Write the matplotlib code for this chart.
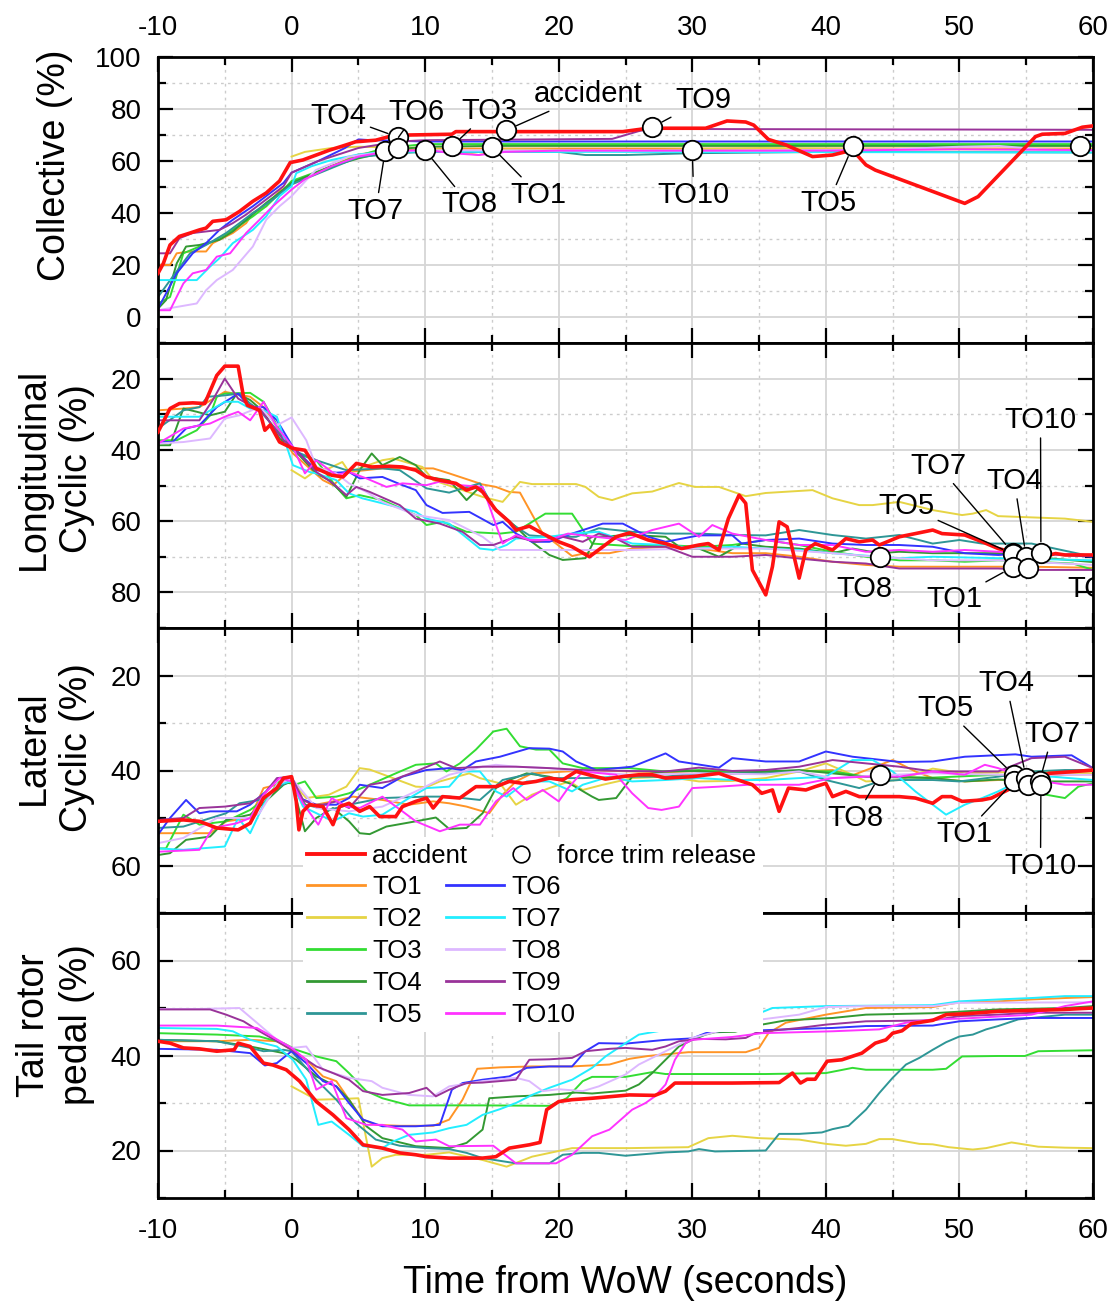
import matplotlib.pyplot as plt
from matplotlib.lines import Line2D
from matplotlib.patches import Rectangle
from matplotlib.ticker import MultipleLocator

plt.rcParams['font.family'] = ['Liberation Sans', 'DejaVu Sans']
plt.rcParams['axes.unicode_minus'] = False

names = ['TO1', 'TO2', 'TO3', 'TO4', 'TO5', 'TO6', 'TO7', 'TO8', 'TO9', 'TO10']
colors = ['#FF9426', '#E6D444', '#33DD33', '#339933', '#2E9696',
          '#3333FF', '#22EEFF', '#DDB8FF', '#993399', '#FF33FF']
acc_color = '#FF1111'

# ---- collective (%) : (time, value) ----
coll_acc = [(-10, 16.8), (-9.6, 20.6), (-9.1, 27.7), (-8.4, 31), (-7.6, 32.3), (-6.9, 33.5), (-6.4, 34.2),
            (-5.9, 36.8), (-4.9, 37.4), (-3.9, 40.6), (-2.9, 44.5), (-1.9, 47.7), (-0.9, 52.3), (-0.1, 59.4),
            (0.85, 60.4), (1.85, 62.3), (2.85, 64.2), (3.85, 65.8), (4.8, 67.4), (6.3, 68), (7.3, 69.4),
            (8.8, 70), (12, 70.3), (12.3, 71.3), (24.8, 71.3), (26.7, 72.6), (31, 72.6), (32.6, 75.4),
            (34, 75), (34.6, 73.8), (35.7, 68.3), (37, 66.2), (39, 61.7), (40.5, 62.3), (42, 64.2),
            (43, 58.5), (43.7, 56.5), (50.4, 43.7), (51.4, 46.3), (55.7, 69.4), (56.2, 70.3), (57.9, 70.6),
            (59.2, 73), (60, 73.5)]
coll_to1 = [(-10, 20), (-9.1, 20), (-8.6, 24.5), (-7.6, 25.2), (-6.4, 25.2), (-5.9, 28.4), (-4.4, 32.3),
            (-3.4, 36.1), (-2.9, 40), (-1.9, 42.6), (-0.9, 48.4), (0, 51), (2.5, 57), (5, 62.5), (7, 64),
            (10, 64.8), (60, 64.8)]
coll_to2 = [(0, 61.7), (1, 63.5), (3, 65), (5, 65.5), (10, 65), (12, 64), (14, 62.3), (16, 64.5), (25, 64),
            (35, 65), (45, 64.5), (60, 64.5)]
coll_to3 = [(-10, 5.2), (-9.1, 7.7), (-8.1, 24.5), (-6.9, 27.1), (-5.9, 29), (-4.4, 33.5), (-2.9, 38.7),
            (-1.9, 42.6), (-0.6, 49), (0, 52.3), (2.5, 57), (5, 62), (7, 65), (10, 66.5), (60, 66.5)]
coll_to4 = [(-10, 3.2), (-9.4, 6.5), (-8.6, 20.6), (-7.9, 27.1), (-6.9, 27.7), (-5.4, 29.7), (-4.4, 32.9),
            (-3.1, 38.7), (-1.9, 43.9), (-0.6, 49), (0, 51.6), (3, 58), (5, 61), (8, 64.5), (10, 65.5),
            (15, 65.8), (60, 65.8)]
coll_to5 = [(-10, 7.7), (-8.9, 15.5), (-7.6, 24.5), (-6.4, 27.7), (-4.9, 32.3), (-3.9, 36.1), (-2.9, 40),
            (-1.4, 45.2), (0, 51), (5, 61.5), (8, 63), (10, 63.5), (20, 63.5), (22, 62.3), (25, 62.3),
            (30, 63), (40, 63.5), (60, 63.3)]
coll_to6 = [(-10, 3.2), (-8.6, 16.8), (-7.4, 24.5), (-6.4, 28.4), (-5.4, 33.5), (-4.4, 37.4), (-2.9, 42.6),
            (-1.9, 46.5), (-0.6, 51.6), (0, 55.5), (2, 60), (4, 65), (5, 68.3), (6, 68), (10, 67.5),
            (60, 67.5)]
coll_to7 = [(-10, 14.2), (-7.1, 14.2), (-6.1, 19.4), (-5.4, 22.6), (-4.4, 28.4), (-2.9, 33.5), (-1.9, 38.7),
            (-0.9, 46.5), (0, 50.3), (0.35, 55.3), (1.5, 58), (3, 60.4), (5, 62.5), (7, 63.6), (60, 63.3)]
coll_to8 = [(-10, 2.6), (-7.1, 5.2), (-6.4, 10.3), (-5.6, 14.2), (-4.4, 18.1), (-2.9, 27.1), (-1.9, 37.4),
            (-0.9, 42.6), (0, 46.5), (1.8, 56.5), (4.3, 61.7), (7, 63.5), (10, 64.1), (35, 64), (45, 64.5),
            (50, 65.5), (53, 65.8), (56, 64.5), (60, 64)]
coll_to9 = [(-10, 24.5), (-9.1, 24.5), (-8.4, 30.3), (-7.4, 32.3), (-6.4, 32.9), (-5.4, 33.5), (-4.4, 36.1),
            (-3.4, 39.4), (-1.9, 45.2), (-0.6, 50.3), (0, 55.5), (2, 60), (5, 65), (8, 67.5), (10, 68),
            (24, 68.5), (25, 70), (26, 71.5), (27, 72.5), (30, 72.3), (60, 72)]
coll_to10 = [(-10, 2.6), (-9.1, 2.6), (-8.1, 12.9), (-7.4, 16.8), (-6.4, 18.1), (-5.6, 23.2), (-4.6, 24.5),
             (-3.4, 32.3), (-2.4, 37.4), (-1.4, 42.6), (0, 49), (1, 53), (3, 58), (5, 61.7), (7, 63.5),
             (10, 64.3), (12, 63), (14, 62.3), (16, 63.5), (20, 64), (40, 64), (50, 64.5), (60, 64.2)]

# ---- longitudinal cyclic (%) ----
long_acc = [(-10, 35), (-9.1, 28.4), (-8.4, 27), (-7.4, 26.8), (-6.5, 27), (-5.6, 19.1), (-5, 16.5), (-4, 16.5),
            (-3.6, 25.1), (-3.3, 27.5), (-2.4, 28.9), (-2, 34.5), (-1.6, 33), (-0.9, 37.8), (0.1, 39.6),
            (1, 40.1), (1.85, 45.2), (3, 47.1), (3.85, 47.6), (4.85, 43.8), (6, 44.8), (7.3, 44.6), (8.3, 44.8),
            (9.3, 45.7), (10.1, 47.6), (11.1, 48.5), (12.3, 49.4), (13.1, 51.3), (13.8, 50.4), (14.3, 51.8),
            (15.3, 56.9), (16.3, 60.2), (16.8, 62.5), (17.8, 61.4), (18.8, 63.5), (20, 65.8), (21, 67.2),
            (22.3, 70), (23.3, 67.2), (24.3, 64.4), (25.3, 63.3), (26.7, 65.3), (28, 66.3), (29.2, 67.7),
            (30.5, 66.7), (31.2, 66.3), (32, 68.1), (32.7, 59.3), (33.5, 52.7), (34, 55), (34.5, 73.7),
            (35.5, 80.7), (36, 72.8), (36.5, 60.2), (37.1, 61.6), (38, 76), (38.5, 68.1), (39.2, 66.3),
            (40.5, 68.1), (41.5, 64.9), (42.5, 65.8), (43.5, 65.3), (44, 66.7), (45.5, 64.4), (46.7, 63.5),
            (48, 62.5), (48.7, 63.5), (50.4, 63.9), (51.7, 65.8), (52.9, 67.7), (53.9, 68.6), (55.2, 69.1),
            (56.2, 70), (57.2, 69.1), (57.9, 69.5), (60, 69.5)]
long_to1 = [(-10, 28.9), (-8.1, 28.4), (-6.9, 28), (-5, 23.7), (-3.1, 25.1), (-2.1, 28), (-1.1, 33.6), (0.1, 41),
            (2.35, 48.5), (3.1, 49.9), (4.3, 46.2), (6.8, 45.2), (10.6, 45.2), (11.8, 46.6), (14.3, 49.7),
            (15.3, 50.4), (16.3, 51.8), (17.1, 52), (18.8, 63.5), (19.8, 66.3), (21, 69.8), (22, 69),
            (23.8, 69), (25.5, 67.7), (28, 67.2), (30.5, 67.7), (33, 69), (35.5, 69), (38, 70), (40.5, 71.4),
            (43, 72.3), (45.5, 72.8), (55.4, 72.8), (60, 73.1)]
long_to2 = [(0, 45.7), (1, 48), (1.85, 45.7), (2.8, 45.2), (3.8, 43.4), (4.3, 46.2), (6.8, 42.9), (7.6, 42.4),
            (9.8, 44.8), (10.6, 48.5), (14.3, 53.2), (15.8, 54.6), (17.1, 49), (18, 49.6), (21.3, 49.6),
            (22, 50.4), (23, 53.2), (24, 54.1), (25.5, 52.2), (27, 51.7), (29, 49.3), (30.2, 50.4), (32, 50.4),
            (34, 53), (35.5, 52.1), (39, 51.3), (40.5, 53.6), (42.5, 55.5), (43.5, 55.5), (45.5, 54.6),
            (48, 56.9), (50.2, 58.3), (51, 57.9), (52, 56.9), (52.9, 58.6), (57.9, 59.3), (60, 60.2)]
long_to3 = [(-10, 37.3), (-8.6, 37.3), (-7.1, 34.5), (-6.1, 30.3), (-5.6, 25.1), (-5, 24.2), (-3.1, 24),
            (-2.1, 26.5), (-0.6, 36.4), (0.35, 41), (1.85, 42.9), (3.35, 50.4), (4.1, 53.6), (5.1, 52.7),
            (6.8, 54.1), (9.3, 58.3), (10.1, 61.1), (11.3, 60.2), (13.1, 63), (15.6, 63.5), (16.8, 63),
            (19, 57.9), (21, 57.9), (22.5, 66.3), (25.3, 67), (28, 66.7), (30.5, 67.2), (33, 66.7),
            (35.5, 65.3), (38, 66.7), (40.5, 68.6), (43, 70), (45.5, 71), (48, 71), (50.4, 71.4), (52.9, 71),
            (55.4, 71.4), (58.5, 71.9), (60, 73.7)]
long_to4 = [(-10, 38.7), (-9.1, 38.7), (-8.1, 28.4), (-7.1, 29.3), (-6.1, 30.3), (-5, 29.3), (-4.1, 24.2),
            (-3.1, 26), (-2.1, 29.3), (-0.9, 36.8), (0.35, 40.6), (1.85, 46.6), (2.8, 48.5), (4.1, 53.2),
            (5.1, 45.7), (6, 41), (6.8, 44.3), (8.1, 42), (9.3, 44.3), (10.1, 47.6), (11.8, 48.5), (13.1, 54.1),
            (14.1, 50.4), (15.3, 56.9), (16.8, 61.6), (17.8, 65.3), (19.3, 69.5), (20.3, 70.9), (22, 70.4),
            (22.8, 64.4), (25.5, 63.9), (28, 64.4), (29.2, 67.7), (30.5, 67.7), (32, 70), (33.7, 66.3),
            (35.5, 67.2), (38, 67.7), (40.5, 69), (42, 67.7), (44, 69), (45.5, 68.6), (48, 69), (52.9, 69),
            (55.4, 70), (60, 71.5)]
long_to5 = [(-10, 34), (-8.1, 28.9), (-6.9, 28), (-6.3, 25.1), (-5, 24.7), (-3.9, 24.2), (-3.1, 27),
            (-2.4, 28.9), (-1.1, 34.5), (0.1, 40.1), (1.85, 42.9), (4.1, 45.7), (6.8, 45.2), (8.1, 45.7),
            (10.1, 50.8), (11.8, 52), (12.8, 50.8), (14.1, 49.4), (15.1, 56), (16.6, 61.1), (17.8, 64),
            (19.3, 64.4), (21.3, 64.4), (23, 62), (25.5, 63), (28, 63.5), (30.5, 63.5), (33, 63.9), (35.5, 64),
            (38, 62.5), (40.5, 63.9), (43, 64.9), (45.5, 63.9), (48, 66.3), (50, 65.3), (51.7, 66.3),
            (55.4, 66.3), (60, 70)]
long_to6 = [(-10, 37.8), (-8.9, 37.8), (-7.9, 34), (-6.9, 33.1), (-5.6, 28), (-4, 24.2), (-3.1, 28), (-2.1, 28),
            (-1.1, 31.7), (0.1, 39.2), (1.85, 45.7), (3.35, 46.4), (4.3, 46.2), (5.1, 48), (6.8, 47.6),
            (8.1, 49.6), (9.3, 51.3), (10.1, 55.5), (11.3, 57.7), (13.3, 57.4), (15.1, 61.1), (15.8, 60.2),
            (16.8, 63.5), (18, 65.8), (19.3, 65.8), (21, 63.5), (23.3, 60.7), (24.8, 60.7), (26.7, 64.4),
            (28, 65.8), (30.5, 64), (33, 64), (33.7, 66.3), (35.5, 65.3), (38, 64.9), (40.5, 66.3),
            (43, 66.7), (45.5, 66.7), (48, 67.2), (50.4, 69), (52.9, 69.5), (55.4, 69), (60, 70)]
long_to7 = [(-10, 30.7), (-6.9, 30.7), (-5, 26.5), (-4, 26.5), (-3.1, 28.4), (-2.1, 28.9), (-1.1, 30.7),
            (0.1, 44.3), (1.35, 46.2), (1.85, 46.6), (3.35, 48.5), (4.3, 52.2), (5.3, 53.6), (6.8, 55),
            (9.3, 57.4), (10.1, 59.3), (11.8, 60.7), (14.1, 67.7), (15.1, 68.1), (16.1, 66.7), (16.8, 64.9),
            (19.3, 64.4), (21, 63.5), (23, 63), (25.5, 66.3), (28, 66.7), (30.5, 67.7), (33, 67.2),
            (35.5, 67.7), (38, 68.1), (40.5, 69), (43, 69.7), (45.5, 70.4), (48, 70), (52.9, 70.4), (60, 71)]
long_to8 = [(-10, 38.2), (-8.1, 37.8), (-6.1, 36.8), (-5, 31.2), (-3.9, 30.3), (-2.4, 28), (-1.1, 33.1),
            (0, 30.9), (1.1, 37.3), (1.85, 44.8), (3.35, 46.6), (4.3, 49.4), (5.6, 51.8), (6.8, 54.6),
            (9.3, 58.3), (11.8, 59.7), (13.1, 62.1), (14.3, 64.4), (15.6, 68.1), (25.3, 68.1), (30.5, 67.7),
            (35.5, 67.7), (40.5, 69), (44, 70.1), (48, 71), (52.9, 71), (60, 72.3)]
long_to9 = [(-10, 31.7), (-6.9, 31.7), (-5.9, 26), (-5, 20), (-4, 25.6), (-3.1, 27.5), (-2.4, 28.4),
            (-0.6, 37.3), (0.1, 39.2), (1.85, 46.2), (3.1, 49.4), (4.1, 52.7), (4.85, 50.4), (5.85, 51.8),
            (8.1, 55.5), (9.3, 59.3), (11.1, 60.7), (12.8, 63), (14.1, 66.7), (15.1, 66.7), (16.8, 64.4),
            (18.3, 65.8), (20.3, 64.4), (21.8, 65.8), (23, 63.5), (24.3, 64.9), (25.5, 67.2), (28, 67.2),
            (30, 70), (33, 70), (35.5, 69.5), (38, 70.5), (40.5, 71.4), (43, 71.9), (45.5, 73.3),
            (52.9, 73.3), (55.4, 73.7), (60, 73.7)]
long_to10 = [(-10, 38.2), (-8.1, 34), (-6.1, 32.6), (-5, 30.7), (-4, 29.3), (-3.1, 31.7), (-2.1, 26.5),
             (-1.1, 33.6), (0.1, 39.2), (1, 46.6), (1.85, 42.9), (3.35, 47.1), (4.3, 46.2), (5.6, 48),
             (7.1, 50.4), (8.3, 49.4), (10.1, 49.9), (11.1, 48.9), (12.6, 49.9), (14.3, 50.4), (15.8, 66.3),
             (16.8, 63.9), (17.8, 65.3), (19.3, 65.3), (20.7, 63.5), (23, 64.5), (25, 65.3), (27, 62.5),
             (29, 60.7), (30.5, 64.4), (31.5, 61.1), (33, 63.5), (35.5, 65.3), (38, 66.7), (40.5, 66.7),
             (43, 68.6), (45.5, 68.1), (48, 68.6), (50.4, 68.1), (52.9, 68.6), (55.4, 69.1), (60, 69.5)]

# ---- lateral cyclic (%) ----
lat_acc = [(-10, 50.7), (-8.1, 50.4), (-6.9, 50.7), (-5.6, 52.1), (-4, 52.5), (-3.1, 51.1), (-2.1, 45.8),
           (-1.1, 43.7), (-0.6, 41.6), (0, 41.3), (0.35, 46.5), (0.55, 52.5), (0.85, 48.6), (1.35, 47.2),
           (2.35, 47.6), (3.1, 51.4), (3.6, 47.6), (4.3, 46.9), (5.1, 48.6), (5.85, 47.6), (6.6, 49.7),
           (7.8, 49.7), (8.3, 47.6), (9.3, 46.5), (10.1, 45.8), (10.6, 47.9), (11.3, 45.5), (12.6, 45.8),
           (13.8, 43.4), (15.3, 43.4), (16.3, 42.3), (17.3, 42.7), (18.3, 42.3), (19.3, 41.6), (20.3, 42),
           (21.3, 40.2), (22.8, 41.3), (23.5, 41.8), (25, 41.2), (26, 40.9), (27, 40.9), (28, 41.6), (30, 41.3),
           (32, 40.6), (33, 41.6), (34.5, 43), (35.2, 44.8), (36, 44.1), (36.5, 48.6), (37.2, 43.7),
           (38.5, 44.1), (39.2, 43.4), (40, 42.7), (40.5, 45.5), (41.5, 44.4), (42.5, 45.5), (45.5, 45.5),
           (46.7, 45.8), (48, 46.9), (48.7, 45.5), (49.4, 45.5), (50.2, 46.5), (51.7, 46.2), (52.4, 45.8),
           (53.4, 44.4), (54.9, 42.3), (56.7, 40.6), (58.7, 40.2), (60, 39.9)]
lat_to1 = [(-10, 53.2), (-6.1, 53.2), (-4.9, 50.7), (-3.1, 50), (-2.1, 43.7), (-1.1, 43), (0, 41.3), (1.1, 47.6),
           (3.1, 46.5), (4.6, 45.5), (6.8, 46.2), (8.8, 47.2), (10.6, 46.5), (11.8, 46.9), (13.1, 47.6),
           (14.8, 49), (15.8, 45.1), (16.8, 42.3), (18, 40.6), (20.6, 40.2), (23, 40), (25.5, 40.2), (28, 40.4),
           (30.5, 40.1), (33, 40.6), (35.5, 40.2), (38, 40.2), (40.5, 39.9), (42, 41), (45, 37.8), (46.7, 40.2),
           (48, 41.6), (50.4, 42.3), (52.9, 42), (55.4, 41.6), (57.9, 40.9), (60, 40.8)]
lat_to2 = [(0, 42.3), (1.1, 45.8), (2.8, 45.1), (4.1, 43.4), (5.1, 39.5), (5.85, 39.8), (7.3, 41.3), (9.3, 43.4),
           (10.1, 43.5), (11.1, 42.3), (13.3, 40.6), (14.1, 41.6), (15.6, 42.7), (16.8, 47.2), (18, 45.1),
           (19.3, 43.7), (20.8, 42.3), (21.8, 44.1), (23.3, 43), (25.5, 41.6), (28, 41.3), (30.5, 42.3),
           (33, 42.2), (35.5, 41.6), (38, 40.2), (40, 38.5), (42, 40.9), (43, 42.3), (45.5, 42), (48, 39.6),
           (50.4, 40.6), (55.4, 40.2), (60, 40.6)]
lat_to3 = [(-10, 56.4), (-9.4, 56.4), (-8.1, 49.3), (-6.9, 51.4), (-4.9, 50.7), (-3.1, 48.3), (-1.9, 45.8),
           (-0.9, 42.3), (0.35, 42.9), (1, 42.3), (1.85, 45.8), (3.35, 45.5), (4.3, 44.8), (5.85, 43),
           (7.8, 40.6), (9.3, 38.8), (10.8, 38.5), (11.6, 40.2), (12.6, 38.5), (13.8, 35.6), (15.1, 31.8),
           (16.1, 31.2), (17.1, 34.9), (18.3, 35.6), (19.3, 35.6), (20.3, 38.5), (21.8, 39.5), (25.3, 39.5),
           (28, 40.2), (30.5, 39.9), (33, 40.2), (38, 40.1), (40.5, 40.2), (43, 41.3), (48, 41.5), (52.9, 40.9),
           (54.9, 41.6), (55.9, 44.8), (57.9, 45.8), (58.9, 43.4), (60, 42.7)]
lat_to4 = [(-10, 57.8), (-9.1, 57.4), (-7.9, 54.6), (-6.1, 53.9), (-4.9, 50.4), (-3.1, 49.3), (-2.1, 46.9),
           (-0.6, 43), (0, 42.3), (1, 52.8), (1.85, 50), (3.1, 47.9), (4.3, 50.7), (5.1, 53.2), (5.85, 53.4),
           (7.1, 51.8), (9.3, 50.7), (10.8, 49.9), (11.8, 52.3), (13.1, 52.1), (14.3, 49), (15.3, 43.7),
           (16.3, 42), (17.6, 40.6), (19.3, 41.3), (20.8, 42.7), (22.5, 45.5), (23, 46.2), (24.3, 45.8),
           (25.5, 41.3), (28, 40.2), (30.5, 40.1), (33, 40.6), (35.5, 40.2), (38, 39.9), (40.5, 40.6),
           (43, 41.3), (48, 41.6), (50.4, 42.3), (52.9, 41.9), (55.4, 42.3), (60, 42.3)]
lat_to5 = [(-10, 52.1), (-8.1, 51.8), (-4.9, 49), (-3.9, 46.9), (-2.4, 46.2), (-1.1, 43.7), (0, 42), (1, 47.2),
           (2.8, 48.3), (4.3, 47.2), (6.8, 45.8), (10.1, 45.5), (11.8, 45.5), (14.1, 46.2), (15.8, 42),
           (18, 40.6), (19.3, 41.6), (21.8, 41.6), (25.3, 41.3), (28, 41.3), (30.5, 40.6), (35.5, 40.6),
           (38, 40.2), (40, 42), (42.5, 43.7), (44, 42.3), (45.5, 42), (48, 42), (50, 42.3), (52.9, 41.3),
           (55.4, 40.2), (57.9, 39.9), (60, 39.9)]
lat_to6 = [(-10, 53.5), (-9.1, 50), (-7.9, 46.2), (-6.9, 49), (-6.1, 48.6), (-4.1, 48.6), (-3.1, 47.2),
           (-1.9, 44.4), (-1, 41.6), (0, 41.6), (0.6, 45.8), (1.85, 47.2), (3.35, 47.2), (4.3, 45.8), (5.1, 43),
           (6.8, 43.7), (8.3, 41.3), (10.1, 39.9), (11.8, 39.5), (12.8, 39.9), (13.8, 38.1), (15.6, 37.1),
           (17.8, 35.3), (19.3, 35.4), (20.3, 36), (21.3, 38.1), (22.8, 39.9), (25.5, 39.2), (28, 36.4),
           (29, 38.1), (32, 39.4), (33, 37.4), (35.5, 38.1), (38, 38.1), (40, 36), (42, 37.1), (45.5, 38.2),
           (48, 38.1), (50.4, 37.1), (54.2, 36.6), (55.4, 37.1), (58.4, 36.8), (60, 39.5)]
lat_to7 = [(-10, 56.4), (-8.1, 56.7), (-5, 56), (-4, 50), (-3.1, 53.2), (-2.1, 47.2), (-1.1, 43), (0, 42.3),
           (0.85, 47.6), (3.1, 50.7), (4.3, 49), (5.35, 49.7), (6.8, 49.3), (8.8, 45.8), (10.1, 43.7),
           (11.8, 43.4), (12.8, 40.2), (14.1, 40.2), (15.3, 44.4), (16.1, 45.5), (17.6, 42.3), (19.3, 42.3),
           (21, 44.4), (21.8, 43), (23.8, 41.3), (25.5, 42.3), (28, 42), (30.5, 41.6), (33, 42), (35.5, 42),
           (38, 41.6), (40, 41.3), (42, 37.8), (43.5, 37.8), (45, 40.2), (46.7, 44.4), (48, 47.2), (49, 49.3),
           (50.4, 47.2), (51.7, 45.8), (52.9, 44.4), (54.9, 41.6), (56.9, 41.3), (60, 42)]
lat_to8 = [(-10, 55.3), (-8.1, 54.2), (-5.6, 50), (-3.1, 50), (-2.4, 49), (-1.1, 43), (0, 41.6), (1.85, 47.9),
           (4.3, 48.6), (6.8, 47.6), (9.3, 44.4), (11.8, 40.9), (14.3, 39.2), (15.3, 38.8), (16.8, 39.2),
           (19.3, 39.5), (21.8, 40.2), (25.3, 40.9), (30.5, 40.6), (35.5, 40.8), (38, 40.2), (40.5, 41.6),
           (44, 41), (48, 40.6), (52.9, 40.9), (60, 40.9)]
lat_to9 = [(-10, 50.4), (-8.1, 50), (-6.9, 47.9), (-5, 47.6), (-3.1, 46.9), (-2.1, 45.1), (-1.1, 41.6),
           (0, 41.3), (0.85, 46.2), (1.85, 47.6), (3.35, 46.5), (4.3, 47.9), (5.85, 43), (7.3, 42.3),
           (9.3, 40.2), (11.1, 38.1), (12.3, 39.5), (14.3, 39.2), (16.8, 39.2), (19.3, 39.5), (21.8, 39.9),
           (25.3, 40.1), (28, 40.2), (30.5, 39.4), (33, 40.1), (35.5, 39.9), (38, 39.2), (40.5, 37.8),
           (43, 38.5), (45.5, 39.2), (48, 40.2), (52.9, 40.2), (55.4, 37.4), (57.9, 37.1), (60, 39.5)]
lat_to10 = [(-10, 57.1), (-6.9, 56.7), (-5.9, 52.1), (-4.1, 51.1), (-3.1, 50), (-2.1, 45.1), (-0.9, 41.6),
            (0, 42.3), (0.85, 46.9), (2, 51.4), (3, 45.8), (4.1, 47.6), (5.1, 47.9), (6.8, 45.5), (8.3, 48.6),
            (9.3, 50.7), (11.1, 52.8), (12.6, 51.4), (14.1, 51.4), (15.3, 46.5), (16.6, 43.7), (17.6, 46.2),
            (18.8, 44.1), (20, 46.5), (20.7, 43.7), (21.8, 40.2), (24.3, 40.9), (25.5, 44.8), (26.7, 47.9),
            (27.7, 48.3), (29, 47.6), (30, 43.7), (32, 43.4), (34.2, 43), (38, 43), (40.5, 41.6), (43, 41.3),
            (45.5, 41.3), (48, 40.2), (50.4, 40.9), (51.9, 38.8), (52.9, 39.5), (54.9, 41.6), (57.9, 43),
            (60, 43)]

# ---- tail rotor pedal (%) ----
ped_acc = [(-10, 43), (-9.1, 42.6), (-8.1, 41.6), (-6.9, 41.4), (-5.6, 40.9), (-4.3, 41.2), (-4, 42.6),
           (-3.1, 41.9), (-2.1, 38.4), (-1.4, 38), (-0.4, 37), (0.6, 34.6), (1.85, 30.3), (3.1, 27.5),
           (4.3, 24.4), (5.35, 21.2), (6.8, 20.5), (8.1, 19.5), (9.3, 19.1), (10.1, 18.7), (11.8, 18.4),
           (14.3, 18.4), (15.3, 18.7), (16.3, 20.5), (17.8, 21.2), (18.6, 21.7), (19.1, 28.6), (20, 30.3),
           (21, 30.7), (22.5, 31), (25.3, 31.7), (27.2, 31.6), (28, 32.5), (28.7, 34.2), (33, 34.2),
           (36.5, 34.3), (37.5, 36.3), (38.1, 34.2), (38.6, 35), (39.2, 35), (40.1, 38.8), (41.2, 39.1),
           (42.7, 40.5), (43.7, 42.6), (44.5, 43.3), (45, 44.7), (45.7, 45.2), (46.4, 46.7), (48, 47.4),
           (49, 48.6), (50.5, 48.8), (52.9, 49.3), (55.4, 49.5), (57.9, 49.7), (60, 50)]
ped_to1 = [(-10, 43), (-5.6, 43), (-3.1, 43.3), (-1.1, 43), (0, 41.2), (1.1, 39.1), (2.35, 35.6), (3.35, 34.6),
           (4.3, 30.7), (5.35, 26.5), (6.3, 25.4), (8.1, 25.2), (10.6, 25.2), (11.8, 26.5), (12.8, 30.7),
           (13.9, 37.2), (15.6, 37.5), (18, 37.7), (21, 37.7), (23.8, 38.1), (25.3, 39.3), (26.7, 39.9),
           (29.7, 40.7), (34, 40.7), (35, 41.6), (35.7, 44.7), (37, 46.9), (40, 48.6), (43, 50), (48, 50.2),
           (50, 51.2), (52.9, 51.4), (55.4, 51.8), (57.9, 52.1), (60, 52.3)]
ped_to2 = [(0, 33.5), (1.85, 30.7), (3.35, 30.8), (5, 31), (6, 16.6), (6.8, 18.4), (7.8, 19.1), (10.1, 19.1),
           (11.8, 19.6), (14.3, 18), (16.1, 16.6), (18, 18.7), (21, 20.5), (25.3, 20.5), (29.7, 20.7),
           (31.2, 22.6), (33, 23.1), (35, 22.6), (38, 22.3), (40, 21.4), (41.5, 21), (43, 21.4), (44, 22.4),
           (45, 22.4), (47, 21.4), (48, 21.3), (49.2, 20.7), (51, 20.2), (52, 20.5), (53.9, 21.7), (55.9, 20.8),
           (57.9, 20.6), (60, 20.5)]
ped_to3 = [(-10, 44.7), (-5.6, 44.4), (-2.4, 44), (-0.6, 42.6), (0.35, 41.2), (1.85, 39.8), (3.35, 38.8),
           (4.3, 36.3), (5.6, 32.5), (6.8, 31), (8.8, 29.5), (14.3, 29.5), (19.3, 29.4), (20.6, 31),
           (21.8, 34.6), (22.5, 35.5), (25, 35.5), (27, 36.5), (28, 36.1), (35.5, 36.1), (40, 36.3), (42, 37.4),
           (43, 37), (48, 37), (49, 37.2), (50.2, 39.8), (52.9, 39.9), (54.9, 39.9), (55.9, 40.9), (60, 41.1)]
ped_to4 = [(-10, 43.3), (-5.6, 43), (-3.1, 41.9), (-0.6, 40.5), (0.35, 39.1), (1.85, 35.6), (3.35, 33.5),
           (4.3, 30.7), (5.6, 25.1), (6.8, 22.6), (9.3, 20.9), (11.8, 20.5), (13.1, 21.6), (14.3, 24.4),
           (14.8, 31), (16.8, 31.4), (19.3, 31.7), (21.3, 32.2), (22.5, 32), (25, 32.6), (26, 33.9), (27, 36.3),
           (28, 39.1), (29, 41.9), (30, 43.3), (31, 44.4), (31.7, 44.9), (33.2, 45), (35.2, 46.5), (37, 47.4),
           (40.5, 47.9), (43, 48.6), (48, 48.9), (52.9, 49.7), (57.9, 50), (60, 50.4)]
ped_to5 = [(-10, 43.3), (-5.6, 43), (-3.1, 41.6), (-2.1, 40.9), (-0.6, 41.2), (0, 40.9), (1.85, 34.9),
           (3.35, 30.7), (4.8, 25.8), (6.3, 22.3), (8.1, 21), (10.1, 20.5), (11.8, 20.3), (13.1, 19.5),
           (14.3, 18.4), (16.8, 17.3), (19.3, 17.3), (20.3, 19.1), (21.8, 19.5), (23, 19.5), (25, 18.9),
           (28, 19.6), (29.7, 19.8), (30.5, 20.3), (31.7, 19.8), (35.5, 20), (36.5, 23.5), (38, 23.5),
           (39.7, 23.8), (40.5, 24.5), (41.7, 25.2), (43, 28.6), (44, 32.1), (45, 35.3), (46, 38.1), (47, 39.5),
           (48, 41.2), (49, 42.8), (50, 44), (51, 44.4), (52, 45.5), (52.9, 46.2), (54.4, 47.6), (55.4, 47.9),
           (57.9, 48.6), (60, 48.6)]
ped_to6 = [(-10, 41.4), (-5.6, 41.2), (-3.1, 40.5), (-2, 37.9), (-1.1, 38.4), (0, 40.9), (1.1, 38.4),
           (2.35, 34.6), (3.35, 33.5), (4.3, 30), (5.35, 26.5), (6.8, 25.1), (9.3, 25.1), (11.1, 25.4),
           (12, 32.8), (12.8, 34.2), (14.3, 34.9), (16.3, 35.6), (17.6, 37.4), (19.3, 37.7), (21, 37.7),
           (22, 40.9), (23, 42.6), (25, 42.5), (28, 43.3), (30, 43.6), (31, 44.7), (31.7, 45.1), (35.2, 45.3),
           (38, 45.6), (40.5, 45.8), (43, 46.2), (48, 46.3), (50, 47.2), (52.9, 47.6), (55.4, 47.9), (60, 47.9)]
ped_to7 = [(-10, 45.8), (-5.6, 45.6), (-4.4, 45.1), (-3.1, 43.3), (-1.1, 41.9), (0.1, 39.1), (1.1, 34.9),
           (2, 25.4), (3, 26.1), (4.3, 23.3), (5.35, 20.9), (6.8, 20.5), (7.6, 21.9), (8.8, 23.3), (10.6, 23.8),
           (11.8, 24.7), (13.1, 25.4), (14.3, 27.5), (15.6, 28.7), (16.8, 30), (18, 31.7), (19.3, 33.2),
           (21, 34.9), (22.5, 37.4), (23.5, 39.8), (25, 42.6), (26, 44.4), (27.4, 45.1), (30, 46.5), (33, 47.8),
           (35.2, 49.1), (36, 50), (40, 50.4), (48, 50.6), (50, 51.4), (52.9, 51.8), (55.4, 52.1), (57.9, 52.5),
           (60, 52.5)]
ped_to8 = [(-10, 49.8), (-6.9, 49.8), (-3.9, 50), (-2.6, 46.9), (-1.1, 43.3), (0, 41.6), (1.1, 41.9),
           (2.35, 37), (4.3, 35.3), (6, 34.6), (6.8, 33.2), (8.8, 31.7), (10.6, 31.4), (11.8, 33.5),
           (14.3, 34.6), (16.8, 35.3), (17.8, 34.6), (18.8, 32.5), (20, 32.9), (21.8, 32.5), (23, 33.5),
           (25, 36), (26, 38.1), (28, 40.9), (30, 43.7), (32.5, 45.5), (35.2, 47.6), (38, 48.6), (40, 50.2),
           (43, 50.4), (48, 50.4), (50, 51.1), (60, 51.2)]
ped_to9 = [(-10, 49.7), (-6.1, 49.7), (-4.9, 48.6), (-3.6, 47.2), (-2.4, 45.1), (-1.1, 43), (0, 41.2),
           (1.85, 37.7), (3.1, 36.3), (4.3, 34.9), (5.35, 32.5), (6.8, 31.7), (8.8, 32.1), (10.1, 33.2),
           (10.8, 31.4), (11.8, 32.8), (13.1, 34.2), (14.3, 34.3), (16.8, 34.9), (17.8, 39.1), (19.3, 39.2),
           (21, 39.5), (22, 40.9), (23.8, 41.4), (25, 41.6), (27, 41.2), (28, 41.9), (29, 43), (30.5, 43.5),
           (32.5, 43.4), (34, 43.7), (34.7, 44.7), (35.5, 45.1), (38, 45.8), (40, 46.5), (43, 47.2), (48, 47.4),
           (50, 48.3), (52.9, 48.6), (55.4, 49), (60, 49)]
ped_to10 = [(-10, 46.3), (-5.6, 46.3), (-2.6, 45.8), (-1.9, 44.7), (0, 41.6), (1.1, 39.1), (1.85, 32.8),
            (3, 34.6), (4.1, 26.8), (5.6, 25.4), (6.8, 25.4), (8.3, 24.4), (9.3, 21.9), (10.8, 22.3),
            (11.8, 20.9), (15.1, 21), (16.8, 17.3), (19.8, 17.3), (21, 19.1), (22.5, 23), (23.8, 24.4),
            (25.5, 28.6), (26.5, 30), (27.2, 31.4), (28, 33.9), (28.7, 39.1), (29.5, 42.6), (30, 43.3),
            (33, 43.9), (35.2, 44.7), (40.5, 45.1), (44, 45.5), (46, 46.9), (48, 47.6), (50.4, 47.8),
            (55.4, 48.6), (57.9, 50.4), (60, 51.4)]

# force trim release points and their labels: (text, text_t, text_v, point_t, point_v)
coll_marks = [(7.0, 63.7), (8.0, 69.1), (8.0, 64.9), (10.0, 64.1), (12.0, 65.6), (15.0, 65.3),
              (16.05, 71.8), (27.0, 73.0), (30.0, 64.1), (42.0, 65.6), (59.0, 65.6)]
coll_notes = [('TO4', 3.5, 74.4, 8.0, 69.1), ('TO6', 9.35, 75.7, 8.0, 69.1), ('TO3', 14.8, 76.1, 12.0, 65.6),
              ('accident', 22.2, 82.7, 16.05, 71.8), ('TO9', 30.8, 80.3, 27.0, 73.0),
              ('TO7', 6.3, 37.8, 7.0, 63.7), ('TO8', 13.3, 40.2, 10.0, 64.1), ('TO1', 18.5, 44.0, 15.0, 65.3),
              ('TO10', 30.1, 44.0, 30.0, 64.1), ('TO5', 40.2, 40.9, 42.0, 65.6)]
long_marks = [(44.05, 70.1), (54.0, 68.9), (54.0, 69.2), (55.0, 70.1), (56.1, 68.9), (54.0, 72.9), (55.1, 73.2)]
long_notes = [('TO10', 56.07, 33.8, 56.1, 68.9), ('TO7', 48.4, 46.7, 54.0, 68.9), ('TO4', 54.1, 50.9, 55.0, 70.1),
              ('TO5', 46.0, 58.0, 54.0, 69.2), ('TO8', 42.9, 81.2, None, None),
              ('TO1', 49.6, 84.2, 54.0, 72.9)]
lat_marks = [(44.05, 41.0), (54.1, 41.0), (54.1, 42.3), (55.0, 41.6), (55.1, 43.0), (56.0, 42.3), (56.1, 43.1)]
lat_notes = [('TO8', 42.2, 51.6, 44.05, 41.0), ('TO5', 48.96, 28.6, 54.1, 41.0), ('TO4', 53.5, 23.3, 55.0, 41.6),
             ('TO7', 56.97, 34.0, 56.0, 42.3), ('TO1', 50.4, 55.0, 54.1, 42.3), ('TO10', 56.07, 61.7, 56.1, 43.1)]

panels = [
    ([coll_to1, coll_to2, coll_to3, coll_to4, coll_to5, coll_to6, coll_to7, coll_to8, coll_to9, coll_to10],
     coll_acc, (-10, 100), 'Collective (%)', 0.622, coll_marks, coll_notes),
    ([long_to1, long_to2, long_to3, long_to4, long_to5, long_to6, long_to7, long_to8, long_to9, long_to10],
     long_acc, (90, 10), 'Longitudinal\nCyclic (%)', 0.558, long_marks, long_notes),
    ([lat_to1, lat_to2, lat_to3, lat_to4, lat_to5, lat_to6, lat_to7, lat_to8, lat_to9, lat_to10],
     lat_acc, (70, 10), 'Lateral\nCyclic (%)', 0.579, lat_marks, lat_notes),
    ([ped_to1, ped_to2, ped_to3, ped_to4, ped_to5, ped_to6, ped_to7, ped_to8, ped_to9, ped_to10],
     ped_acc, (10, 70), 'Tail rotor\npedal (%)', 0.607, [], []),
]

fig = plt.figure(figsize=(11.16, 13.05), dpi=100)
W, H = 1116, 1305
edges = [57, 343, 628, 913, 1198]
left, right = 158, 1093

axes = []
for k, (series, acc, ylim, ylabel, ly, marks, notes) in enumerate(panels):
    ax = fig.add_axes([left / W, 1 - edges[k + 1] / H, (right - left) / W, (edges[k + 1] - edges[k]) / H])
    axes.append(ax)
    for s, c in zip(series, colors):
        t, v = zip(*s)
        ax.plot(t, v, color=c, lw=1.4, zorder=2)
    t, v = zip(*acc)
    ax.plot(t, v, color=acc_color, lw=2.6, zorder=3)

    if marks:
        mt, mv = zip(*marks)
        ax.plot(mt, mv, ls='none', marker='o', ms=14, mfc='white', mec='black', mew=1.3, zorder=5)
    for txt, tt, tv, pt, pv in notes:
        if pt is None:
            ax.text(tt, tv, txt, fontsize=21, ha='center', va='baseline', zorder=6)
        else:
            ax.annotate(txt, xy=(pt, pv), xytext=(tt, tv), fontsize=21, ha='center', va='baseline',
                        zorder=6, arrowprops=dict(arrowstyle='-', color='black', lw=1.0,
                                                  shrinkA=1, shrinkB=8))

    ax.set_xlim(-10, 60)
    ax.set_ylim(*ylim)
    ax.xaxis.set_major_locator(MultipleLocator(10))
    ax.xaxis.set_minor_locator(MultipleLocator(5))
    ax.yaxis.set_major_locator(MultipleLocator(20))
    ax.yaxis.set_minor_locator(MultipleLocator(10))
    ax.grid(which='major', color='#d6d6d6', lw=1.3)
    ax.grid(which='minor', color='#cccccc', lw=1.0, ls=(0, (2, 3)))
    ax.set_axisbelow(True)
    ax.tick_params(which='both', direction='in', top=True, right=True, width=1.6,
                   labelsize=20, labelbottom=False, labeltop=False)
    ax.tick_params(which='major', length=11)
    ax.tick_params(which='minor', length=6)
    ax.tick_params(axis='y', pad=12)
    for sp in ax.spines.values():
        sp.set_linewidth(2)
    ax.set_ylabel(ylabel, fontsize=27, ha='center', va='center', linespacing=1.25)
    ax.yaxis.set_label_coords(-0.110, ly)

axes[0].tick_params(axis='x', labeltop=True, pad=11.5)
axes[3].tick_params(axis='x', labelbottom=True, pad=14.5)
axes[3].set_xlabel('Time from WoW (seconds)', fontsize=27, labelpad=15)
# label of the last release point runs past the right edge and is cut by the axes
axes[1].text(58.05, 81.3, 'TO3', fontsize=21, ha='left', va='baseline', clip_on=True, zorder=6)

# white box behind the legend, drawn over the axes
fig.add_artist(Rectangle((303 / W, 1 - 1032 / H), 460 / W, 195 / H, transform=fig.transFigure,
                         facecolor='white', edgecolor='none', zorder=4))

top_handles = [Line2D([], [], color=acc_color, lw=2.8),
               Line2D([], [], ls='none', marker='o', ms=12, mfc='white', mec='black', mew=1.2)]
fig.legend(top_handles, ['accident', 'force trim release'], ncol=2, loc='upper left',
           bbox_to_anchor=(307 / W, 1 - 844 / H), frameon=False, fontsize=18.5, handlelength=2.25,
           handletextpad=0.28, columnspacing=0.95, borderaxespad=0, borderpad=0)
to_handles = [Line2D([], [], color=c, lw=2.0) for c in colors]
fig.legend(to_handles, names, ncol=2, loc='upper left',
           bbox_to_anchor=(307 / W, 1 - 875 / H), frameon=False, fontsize=18.5, handlelength=2.25,
           handletextpad=0.28, columnspacing=0.95, labelspacing=0.31, borderaxespad=0, borderpad=0)

fig.savefig('out.png', dpi=100)
